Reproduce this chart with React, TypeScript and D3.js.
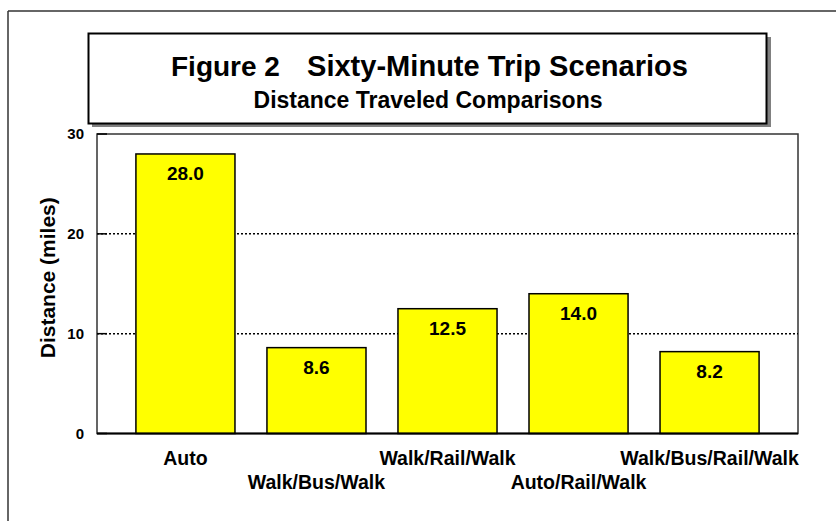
import React from "react";
import * as d3 from "d3";

const categories = ["Auto", "Walk/Bus/Walk", "Walk/Rail/Walk", "Auto/Rail/Walk", "Walk/Bus/Rail/Walk"];
const values = [28.0, 8.6, 12.5, 14.0, 8.2];
const yTicks = [0, 10, 20, 30];
const gridTicks = [10, 20];
const titleMain = "Figure 2";
const titleRest = "Sixty-Minute Trip Scenarios";
const subtitle = "Distance Traveled Comparisons";
const yLabel = "Distance (miles)";

const W = 836;
const H = 521;
const FONT = "'Liberation Sans', Arial, Helvetica, sans-serif";

export default function App() {
  const plot = { left: 97, right: 798, top: 134, bottom: 433.5 };
  const x = d3
    .scaleBand<string>()
    .domain(categories)
    .range([plot.left, plot.right])
    .paddingInner(0.244)
    .paddingOuter(0.297);
  const y = d3.scaleLinear().domain([0, 30]).range([plot.bottom, plot.top]);

  return (
    <svg
      width={W}
      height={H}
      style={{ position: "absolute", left: 0, top: 0, background: "#fff" }}
      fontFamily={FONT}
    >
      {/* outer frame */}
      <line x1={8} y1={11} x2={W} y2={11} stroke="#333" strokeWidth={1.5} />
      <line x1={8} y1={11} x2={8} y2={H} stroke="#333" strokeWidth={1.5} />

      {/* title box with shadow */}
      <rect x={92} y={37} width={679} height={90} fill="#808080" />
      <rect x={88.5} y={33.5} width={678} height={90} fill="#fff" stroke="#000" strokeWidth={2} />
      <text x={171} y={76} fontSize={28} fontWeight="bold" fill="#000">
        {titleMain}
      </text>
      <text x={307} y={76} fontSize={29} fontWeight="bold" fill="#000" textLength={381} lengthAdjust="spacingAndGlyphs">
        {titleRest}
      </text>
      <text x={428} y={108} fontSize={23} fontWeight="bold" textAnchor="middle" fill="#000">
        {subtitle}
      </text>

      {/* plot frame */}
      <rect
        x={plot.left}
        y={plot.top}
        width={plot.right - plot.left}
        height={plot.bottom - plot.top}
        fill="#fff"
        stroke="#333"
        strokeWidth={1.5}
      />

      {/* grid lines */}
      {gridTicks.map((t) => (
        <line
          key={"g" + t}
          x1={plot.left}
          x2={plot.right}
          y1={y(t)}
          y2={y(t)}
          stroke="#000"
          strokeWidth={1.5}
          strokeDasharray="2,2"
        />
      ))}
      {/* tick marks */}
      {yTicks.map((t) => (
        <line
          key={"t" + t}
          x1={plot.left}
          x2={plot.left + 10}
          y1={y(t)}
          y2={y(t)}
          stroke="#000"
          strokeWidth={1.5}
        />
      ))}

      {/* bars */}
      {categories.map((c, i) => (
        <rect
          key={c}
          x={x(c)}
          y={y(values[i])}
          width={x.bandwidth()}
          height={y(0) - y(values[i])}
          fill="#FFFF00"
          stroke="#000"
          strokeWidth={1.5}
        />
      ))}
      {categories.map((c, i) => (
        <text
          key={"v" + c}
          x={(x(c) as number) + x.bandwidth() / 2}
          y={y(values[i]) + 26}
          fontSize={19}
          fontWeight="bold"
          textAnchor="middle"
          fill="#000"
        >
          {values[i].toFixed(1)}
        </text>
      ))}

      {/* x axis baseline */}
      <line x1={plot.left} x2={plot.right} y1={y(0)} y2={y(0)} stroke="#000" strokeWidth={2} />

      {/* y tick labels */}
      {yTicks.map((t) => (
        <text
          key={"yl" + t}
          x={84}
          y={y(t) + 5}
          fontSize={15}
          fontWeight="bold"
          textAnchor="end"
          fill="#000"
        >
          {t}
        </text>
      ))}

      {/* category labels, staggered */}
      {categories.map((c, i) => (
        <text
          key={"c" + c}
          x={(x(c) as number) + x.bandwidth() / 2}
          y={i % 2 === 0 ? 465 : 489}
          fontSize={19.5}
          fontWeight="bold"
          textAnchor="middle"
          fill="#000"
        >
          {c}
        </text>
      ))}

      {/* y axis label */}
      <text
        transform={`translate(55, ${(plot.top + plot.bottom) / 2 - 6}) rotate(-90)`}
        fontSize={21}
        fontWeight="bold"
        textAnchor="middle"
        fill="#000"
      >
        {yLabel}
      </text>
    </svg>
  );
}
